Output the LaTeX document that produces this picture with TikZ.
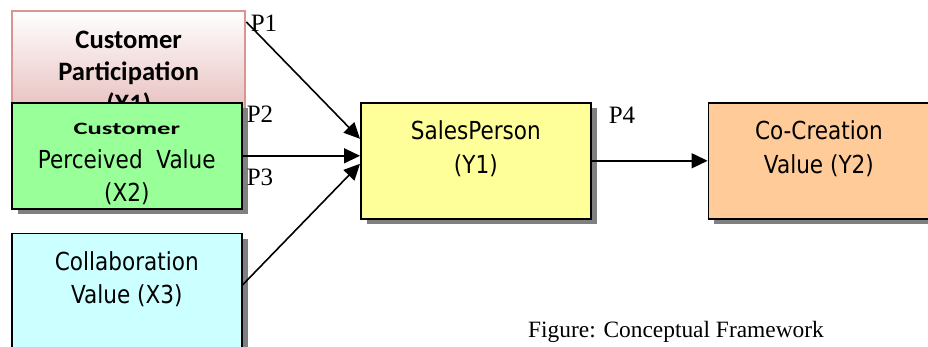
\documentclass[tikz,border=0pt]{standalone}
\usepackage{fontspec}
\usepackage{graphicx}
\usepackage{tikz}
\usetikzlibrary{positioning,calc}
\usetikzlibrary{arrows.meta,shadows}
\setmainfont{Liberation Serif}
\newfontfamily\boxfont{DejaVu Sans}[FakeStretch=0.87]
\newfontfamily\custfont{Carlito}
\definecolor{xpink}{RGB}{229,184,183}
\definecolor{xpinkline}{RGB}{217,149,148}
\definecolor{xgreen}{RGB}{153,255,153}
\definecolor{xcyan}{RGB}{204,255,255}
\definecolor{yyellow}{RGB}{255,255,153}
\definecolor{yorange}{RGB}{255,204,153}
\definecolor{shadowgray}{RGB}{128,128,128}
\tikzstyle{block} = [rectangle,draw=black,anchor=north west,minimum width=115pt]
\tikzstyle{shadowed} = [drop shadow={shadow xshift=3pt,shadow yshift=-2.75pt,opacity=1,fill=shadowgray}]
\tikzstyle{blocktext} = [align=center,inner sep=0pt,font=\boxfont\fontsize{12.4}{16.75}\selectfont]
\tikzstyle{boldtext} = [font=\custfont\bfseries\fontsize{13.3}{16}\selectfont]
\tikzstyle{tag} = [anchor=base west,inner sep=0pt,font=\fontsize{12.5}{15}\selectfont]
\tikzstyle{line} = [-{Triangle[length=8pt,width=7.5pt]}]

\begin{document}
\begin{tikzpicture}[thick,x=0.5pt,y=-0.5pt]
        \useasboundingbox (0,0) rectangle (928,347);
        % left column: X1 sits under X2
        \node[block,draw=xpinkline,line width=1.2pt,top color=white,bottom color=xpink,
              minimum width=116.5pt,minimum height=56pt] (x1) at (11,10) {};
        \node[blocktext,boldtext,below=10pt of x1.north] (x1t) {Customer\\Participation\\(X1)};
        \node[block,shadowed,fill=xgreen,minimum height=53pt] (x2) at (11,102) {};
        \node[blocktext,below=10.4pt of x2.north] (x2t)
            {{\custfont\bfseries\fontsize{13.3}{16}\selectfont\scalebox{1}[0.65]{Customer}}\\Perceived\ \ Value\\(X2)};
        \node[block,shadowed,fill=xcyan,minimum height=57.5pt,below=11.5pt of x2] (x3) {};
        \node[blocktext,below=9pt of x3.north] (x3t) {Collaboration\\Value (X3)};
        % right side
        \node[block,shadowed,fill=yyellow,minimum height=58pt] (sales) at (360,102) {};
        \node[blocktext,below=9pt of sales.north] (salest) {SalesPerson\\(Y1)};
        \node[block,shadowed,fill=yorange,minimum width=110.5pt,minimum height=58pt,right=58pt of sales] (value) {};
        \node[blocktext,below=9pt of value.north] (valuet) {Co-Creation\\Value (Y2)};
        % paths
        \draw[line] ([yshift=-6pt]x1.north east) -- ([yshift=11pt]sales.west);
        \draw[line] (x2.east) -- ([yshift=2.5pt]sales.west);
        \draw[line] ([yshift=3pt]x3.east) -- ([yshift=-1.5pt]sales.west);
        \draw[line] (sales.east) -- (value.west);
        \node[tag] (p1) at (250,32) {P1};
        \node[tag] (p2) at (246,123) {P2};
        \node[tag] (p3) at (246,186) {P3};
        \node[tag] (p4) at (608,124) {P4};
        \node[anchor=base,inner sep=0pt,font=\fontsize{11.7}{14}\selectfont] (caption) at (676,338) {Figure: Conceptual Framework};
    \end{tikzpicture}
\end{document}
